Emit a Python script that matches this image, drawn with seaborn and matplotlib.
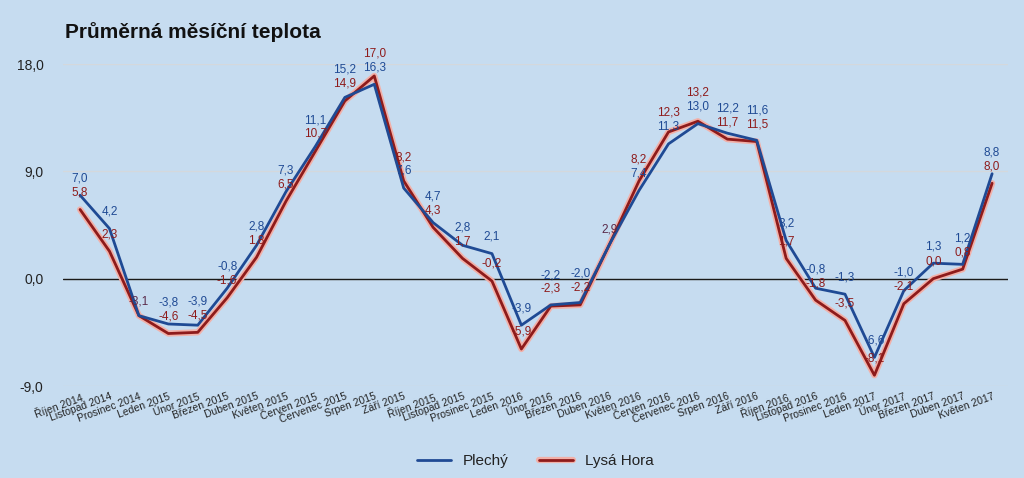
import pandas as pd
import matplotlib.pyplot as plt
import matplotlib.patheffects as pe
from matplotlib.ticker import FuncFormatter
import seaborn as sns

months = ["Říjen 2014", "Listopad 2014", "Prosinec 2014", "Leden 2015", "Únor 2015",
          "Březen 2015", "Duben 2015", "Květen 2015", "Červen 2015", "Červenec 2015",
          "Srpen 2015", "Září 2015", "Říjen 2015", "Listopad 2015", "Prosinec 2015",
          "Leden 2016", "Únor 2016", "Březen 2016", "Duben 2016", "Květen 2016",
          "Červen 2016", "Červenec 2016", "Srpen 2016", "Září 2016", "Říjen 2016",
          "Listopad 2016", "Prosinec 2016", "Leden 2017", "Únor 2017", "Březen 2017",
          "Duben 2017", "Květen 2017"]
plechy = [7.0, 4.2, -3.1, -3.8, -3.9, -0.8, 2.8, 7.3, 11.1, 15.2, 16.3, 7.6, 4.7, 2.8, 2.1,
          -3.9, -2.2, -2.0, 2.9, 7.4, 11.3, 13.0, 12.2, 11.6, 3.2, -0.8, -1.3, -6.6, -1.0,
          1.3, 1.2, 8.8]
lysa = [5.8, 2.3, -3.1, -4.6, -4.5, -1.6, 1.8, 6.5, 10.7, 14.9, 17.0, 8.2, 4.3, 1.7, -0.2,
        -5.9, -2.3, -2.2, 2.9, 8.2, 12.3, 13.2, 11.7, 11.5, 1.7, -1.8, -3.5, -8.1, -2.1,
        0.0, 0.8, 8.0]

df = pd.DataFrame({
    "idx": list(range(len(months))) * 2,
    "teplota": plechy + lysa,
    "stanice": ["Plechý"] * len(months) + ["Lysá Hora"] * len(months),
})

bg = "#c6dcf0"
c_blue = "#1f4a94"
c_red = "#8e1b1b"

sns.set_style("white")
plt.rcParams["font.family"] = ["Liberation Sans", "DejaVu Sans"]

fig = plt.figure(figsize=(10.24, 4.78), dpi=100, facecolor=bg)
ax = fig.add_axes([63 / 1024, 1 - 386 / 478, (1008 - 63) / 1024, (386 - 64) / 478])
ax.set_facecolor(bg)

sns.lineplot(data=df, x="idx", y="teplota", hue="stanice",
             palette={"Plechý": c_blue, "Lysá Hora": c_red}, linewidth=2, ax=ax)
for line in ax.get_lines():
    if line.get_color() == c_red:
        line.set_path_effects([pe.Stroke(linewidth=4.5, foreground="#f2b0a8"), pe.Normal()])
        line.set_zorder(3)
    else:
        line.set_zorder(4)

ax.set_xlim(-0.58, 31.54)
ax.set_ylim(-9, 18)
ax.set_yticks([-9, 0, 9, 18])
ax.yaxis.set_major_formatter(FuncFormatter(lambda v, p: f"{v:.1f}".replace(".", ",")))
ax.grid(axis="y", color="#d4d8dc", linewidth=1)
ax.axhline(0, color="#1a1a1a", linewidth=1, zorder=2)
for s in ax.spines.values():
    s.set_visible(False)
ax.tick_params(axis="y", length=0, labelsize=10, colors="#222222", pad=14)
ax.set_xticks(range(len(months)))
ax.set_xticklabels(months, rotation=20, ha="right", va="top", rotation_mode="anchor",
                   fontsize=7.5, color="#222222")
ax.tick_params(axis="x", length=0, pad=4)
ax.set_xlabel("")
ax.set_ylabel("")

# data labels, higher value on top
for i in range(len(months)):
    hi, lo = max(plechy[i], lysa[i]), min(plechy[i], lysa[i])
    if hi == lo:
        ax.annotate(f"{hi:.1f}".replace(".", ","), (i, hi), xytext=(0, 6), textcoords="offset points",
                    ha="center", va="bottom", fontsize=8.5, color="#5a2a4a", zorder=5)
        continue
    cols = (c_blue, c_red) if plechy[i] >= lysa[i] else (c_red, c_blue)
    ax.annotate(f"{lo:.1f}".replace(".", ","), (i, lo), xytext=(0, 8), textcoords="offset points",
                ha="center", va="bottom", fontsize=8.5, color=cols[1], zorder=5)
    off = max(8, (lo - hi) * 11.94 * 0.72 + 8 + 10)
    ax.annotate(f"{hi:.1f}".replace(".", ","), (i, hi), xytext=(0, off), textcoords="offset points",
                ha="center", va="bottom", fontsize=8.5, color=cols[0], zorder=5)

leg = ax.legend(loc="upper center", bbox_to_anchor=(0.5, -0.17), ncol=2, frameon=False,
                fontsize=11, handlelength=2.2, columnspacing=2)
for t in leg.get_texts():
    t.set_color("#222222")

fig.text(65 / 1024, 1 - 32 / 478, "Průměrná měsíční teplota", fontsize=15, fontweight="bold",
         va="center", ha="left", color="#111111")

fig.savefig("out.png", dpi=100, facecolor=bg)
